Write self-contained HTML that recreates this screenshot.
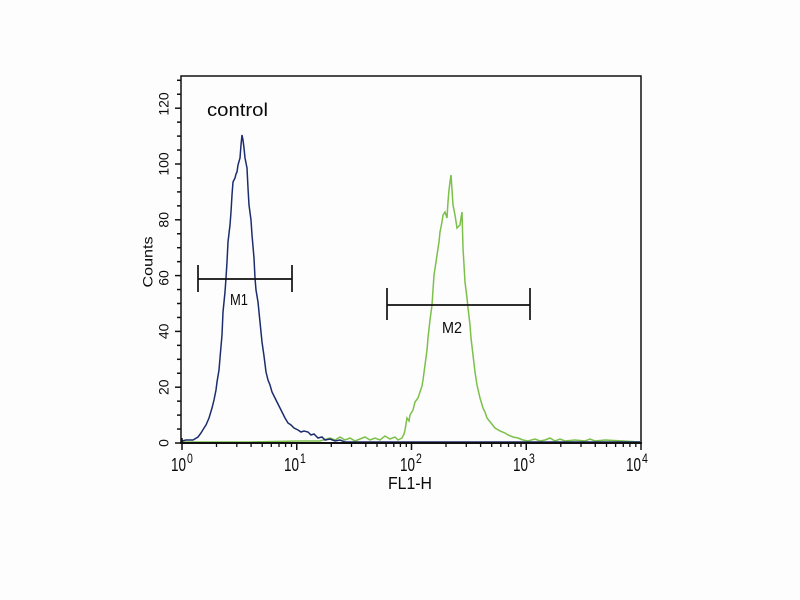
<!DOCTYPE html>
<html>
<head>
<meta charset="utf-8">
<style>
  html,body{margin:0;padding:0;background:#fff;}
  body{width:800px;height:600px;overflow:hidden;}
  svg{display:block;}
  text{font-family:"Liberation Sans",Arial,sans-serif;fill:#0a0a0a;}
</style>
</head>
<body>
<svg width="800" height="600" viewBox="0 0 800 600" xmlns="http://www.w3.org/2000/svg">
  <rect x="0" y="0" width="800" height="600" fill="#fdfdfd"/>

  <!-- green histogram -->
  <polyline fill="none" stroke="#7cc04a" stroke-width="1.5" stroke-linejoin="miter" points="
    182,442 250,442 300,441 320,441 330,438 335,440 340,437 345,440 350,438 355,441 360,439 365,437 370,440 375,438 380,440 385,436 390,439 395,437 398,440 402,438 404,434 405,430 407,418 409,421 410,415 413,410 415,402 418,398 420,392 422,386 423,380 425,365 427,350 428,338 430,320 432,305 433,290 434,275 436,262 437,255 439,242 440,232 442,222 443,215 445,212 447,218 448,202 449,190 450,182 451,175 452,190 453,205 455,215 457,228 459,226 460,225 461,218 462,212 463,248 464,265 465,282 467,298 468,308 470,325 471,338 473,355 475,372 477,385 480,398 483,408 485,412 487,418 491,423 495,428 500,431 505,433 508,435 513,437 518,438 523,440 528,441 535,439 540,441 545,440 550,438 555,441 560,439 565,441 575,440 585,441 590,439 595,441 605,440 640,442"/>

  <!-- blue histogram -->
  <polyline fill="none" stroke="#1c2d6e" stroke-width="1.5" stroke-linejoin="miter" points="
    182,441 186,440 193,440 198,437 201,433 204,428 206,425 209,418 212,408 214,400 216,390 217,382 219,370 220,358 222,335 223,312 225,292 226,278 227,262 228,242 230,225 231,212 232,195 233,182 235,178 236,174 237,172 238,165 240,158 241,145 242,135 243,140 244,148 245,158 247,168 248,188 249,205 251,220 252,235 254,258 255,278 256,290 258,302 260,322 262,342 264,356 266,372 268,380 270,385 272,392 275,398 278,404 282,412 285,418 288,423 291,425 294,428 298,430 301,432 304,431 308,432 311,435 314,434 318,438 322,437 325,440 330,439 335,441 340,440 345,442 640,442"/>

  <!-- plot frame -->
  <rect x="181" y="76" width="460" height="367" fill="none" stroke="#111" stroke-width="1.5"/>
  <line x1="180" y1="443" x2="642" y2="443" stroke="#111" stroke-width="2"/>

  <!-- y ticks -->
  <g stroke="#111" stroke-width="1.5">
    <line x1="175" y1="443" x2="181" y2="443"/>
    <line x1="177" y1="429.05" x2="181" y2="429.05"/>
    <line x1="177" y1="415.1" x2="181" y2="415.1"/>
    <line x1="177" y1="401.15" x2="181" y2="401.15"/>
    <line x1="175" y1="387.2" x2="181" y2="387.2"/>
    <line x1="177" y1="373.25" x2="181" y2="373.25"/>
    <line x1="177" y1="359.3" x2="181" y2="359.3"/>
    <line x1="177" y1="345.35" x2="181" y2="345.35"/>
    <line x1="175" y1="331.4" x2="181" y2="331.4"/>
    <line x1="177" y1="317.45" x2="181" y2="317.45"/>
    <line x1="177" y1="303.5" x2="181" y2="303.5"/>
    <line x1="177" y1="289.55" x2="181" y2="289.55"/>
    <line x1="175" y1="275.6" x2="181" y2="275.6"/>
    <line x1="177" y1="261.65" x2="181" y2="261.65"/>
    <line x1="177" y1="247.7" x2="181" y2="247.7"/>
    <line x1="177" y1="233.75" x2="181" y2="233.75"/>
    <line x1="175" y1="219.8" x2="181" y2="219.8"/>
    <line x1="177" y1="205.85" x2="181" y2="205.85"/>
    <line x1="177" y1="191.9" x2="181" y2="191.9"/>
    <line x1="177" y1="177.95" x2="181" y2="177.95"/>
    <line x1="175" y1="164" x2="181" y2="164"/>
    <line x1="177" y1="150.05" x2="181" y2="150.05"/>
    <line x1="177" y1="136.1" x2="181" y2="136.1"/>
    <line x1="177" y1="122.15" x2="181" y2="122.15"/>
    <line x1="175" y1="108.2" x2="181" y2="108.2"/>
    <line x1="177" y1="94.25" x2="181" y2="94.25"/>
    <line x1="177" y1="80.3" x2="181" y2="80.3"/>
  </g>

  <!-- y labels -->
  <g font-size="14">
    <text transform="translate(168.5,443) rotate(-90)" text-anchor="middle">0</text>
    <text transform="translate(168.5,387.2) rotate(-90)" text-anchor="middle">20</text>
    <text transform="translate(168.5,331.4) rotate(-90)" text-anchor="middle">40</text>
    <text transform="translate(168.5,278) rotate(-90)" text-anchor="middle">60</text>
    <text transform="translate(168.5,219.8) rotate(-90)" text-anchor="middle">80</text>
    <text transform="translate(168.5,164) rotate(-90)" text-anchor="middle">100</text>
    <text transform="translate(168.5,104) rotate(-90)" text-anchor="middle">120</text>
  </g>
  <text transform="translate(152.5,262) rotate(-90)" text-anchor="middle" font-size="14" textLength="51" lengthAdjust="spacingAndGlyphs">Counts</text>

  <!-- x ticks -->
  <g stroke="#111" stroke-width="1.5">
    <line x1="182" y1="438" x2="182" y2="450"/>
    <line x1="296.75" y1="443" x2="296.75" y2="450"/>
    <line x1="411.5" y1="443" x2="411.5" y2="450"/>
    <line x1="526.25" y1="443" x2="526.25" y2="450"/>
    <line x1="641" y1="443" x2="641" y2="450"/>
  </g>
  <g stroke="#111" stroke-width="1.3">
    <line x1="216.5" y1="443" x2="216.5" y2="447"/>
    <line x1="236.8" y1="443" x2="236.8" y2="447"/>
    <line x1="251.1" y1="443" x2="251.1" y2="447"/>
    <line x1="262.2" y1="443" x2="262.2" y2="447"/>
    <line x1="271.3" y1="443" x2="271.3" y2="447"/>
    <line x1="279.0" y1="443" x2="279.0" y2="447"/>
    <line x1="285.6" y1="443" x2="285.6" y2="447"/>
    <line x1="291.5" y1="443" x2="291.5" y2="447"/>
    <line x1="331.3" y1="443" x2="331.3" y2="447"/>
    <line x1="351.5" y1="443" x2="351.5" y2="447"/>
    <line x1="365.8" y1="443" x2="365.8" y2="447"/>
    <line x1="377.0" y1="443" x2="377.0" y2="447"/>
    <line x1="386.1" y1="443" x2="386.1" y2="447"/>
    <line x1="393.8" y1="443" x2="393.8" y2="447"/>
    <line x1="400.4" y1="443" x2="400.4" y2="447"/>
    <line x1="406.3" y1="443" x2="406.3" y2="447"/>
    <line x1="446.0" y1="443" x2="446.0" y2="447"/>
    <line x1="466.3" y1="443" x2="466.3" y2="447"/>
    <line x1="480.6" y1="443" x2="480.6" y2="447"/>
    <line x1="491.7" y1="443" x2="491.7" y2="447"/>
    <line x1="500.8" y1="443" x2="500.8" y2="447"/>
    <line x1="508.5" y1="443" x2="508.5" y2="447"/>
    <line x1="515.1" y1="443" x2="515.1" y2="447"/>
    <line x1="521.0" y1="443" x2="521.0" y2="447"/>
    <line x1="560.8" y1="443" x2="560.8" y2="447"/>
    <line x1="581.0" y1="443" x2="581.0" y2="447"/>
    <line x1="595.3" y1="443" x2="595.3" y2="447"/>
    <line x1="606.5" y1="443" x2="606.5" y2="447"/>
    <line x1="615.6" y1="443" x2="615.6" y2="447"/>
    <line x1="623.3" y1="443" x2="623.3" y2="447"/>
    <line x1="629.9" y1="443" x2="629.9" y2="447"/>
    <line x1="635.8" y1="443" x2="635.8" y2="447"/>
  </g>

  <!-- x labels -->
  <g font-size="14">
    <g transform="translate(171,471) scale(1,1.35)"><text x="0" y="0" textLength="15" lengthAdjust="spacingAndGlyphs">10</text><text x="16" y="-6" font-size="10.5">0</text></g>
    <g transform="translate(284,471) scale(1,1.35)"><text x="0" y="0" textLength="15" lengthAdjust="spacingAndGlyphs">10</text><text x="16" y="-6" font-size="10.5">1</text></g>
    <g transform="translate(400,471) scale(1,1.35)"><text x="0" y="0" textLength="15" lengthAdjust="spacingAndGlyphs">10</text><text x="16" y="-6" font-size="10.5">2</text></g>
    <g transform="translate(513,471) scale(1,1.35)"><text x="0" y="0" textLength="15" lengthAdjust="spacingAndGlyphs">10</text><text x="16" y="-6" font-size="10.5">3</text></g>
    <g transform="translate(626,471) scale(1,1.35)"><text x="0" y="0" textLength="15" lengthAdjust="spacingAndGlyphs">10</text><text x="16" y="-6" font-size="10.5">4</text></g>
  </g>
  <g transform="translate(388,489) scale(1,1.3)">
    <text x="0" y="0" font-size="13.5" textLength="44" lengthAdjust="spacingAndGlyphs">FL1-H</text>
  </g>

  <!-- control label -->
  <text x="207" y="116" font-size="18" textLength="61" lengthAdjust="spacingAndGlyphs">control</text>

  <!-- M1 marker -->
  <g stroke="#111" stroke-width="1.7">
    <line x1="198" y1="279" x2="292" y2="279"/>
    <line x1="198" y1="265" x2="198" y2="292"/>
    <line x1="292" y1="265" x2="292" y2="292"/>
  </g>
  <g transform="translate(239,305) scale(1,1.3)">
    <text x="0" y="0" font-size="12" text-anchor="middle" textLength="18" lengthAdjust="spacingAndGlyphs">M1</text>
  </g>

  <!-- M2 marker -->
  <g stroke="#111" stroke-width="1.7">
    <line x1="387" y1="305" x2="530" y2="305"/>
    <line x1="387" y1="288" x2="387" y2="320"/>
    <line x1="530" y1="288" x2="530" y2="320"/>
  </g>
  <g transform="translate(452,333) scale(1,1.3)">
    <text x="0" y="0" font-size="12" text-anchor="middle" textLength="20" lengthAdjust="spacingAndGlyphs">M2</text>
  </g>
</svg>
</body>
</html>
